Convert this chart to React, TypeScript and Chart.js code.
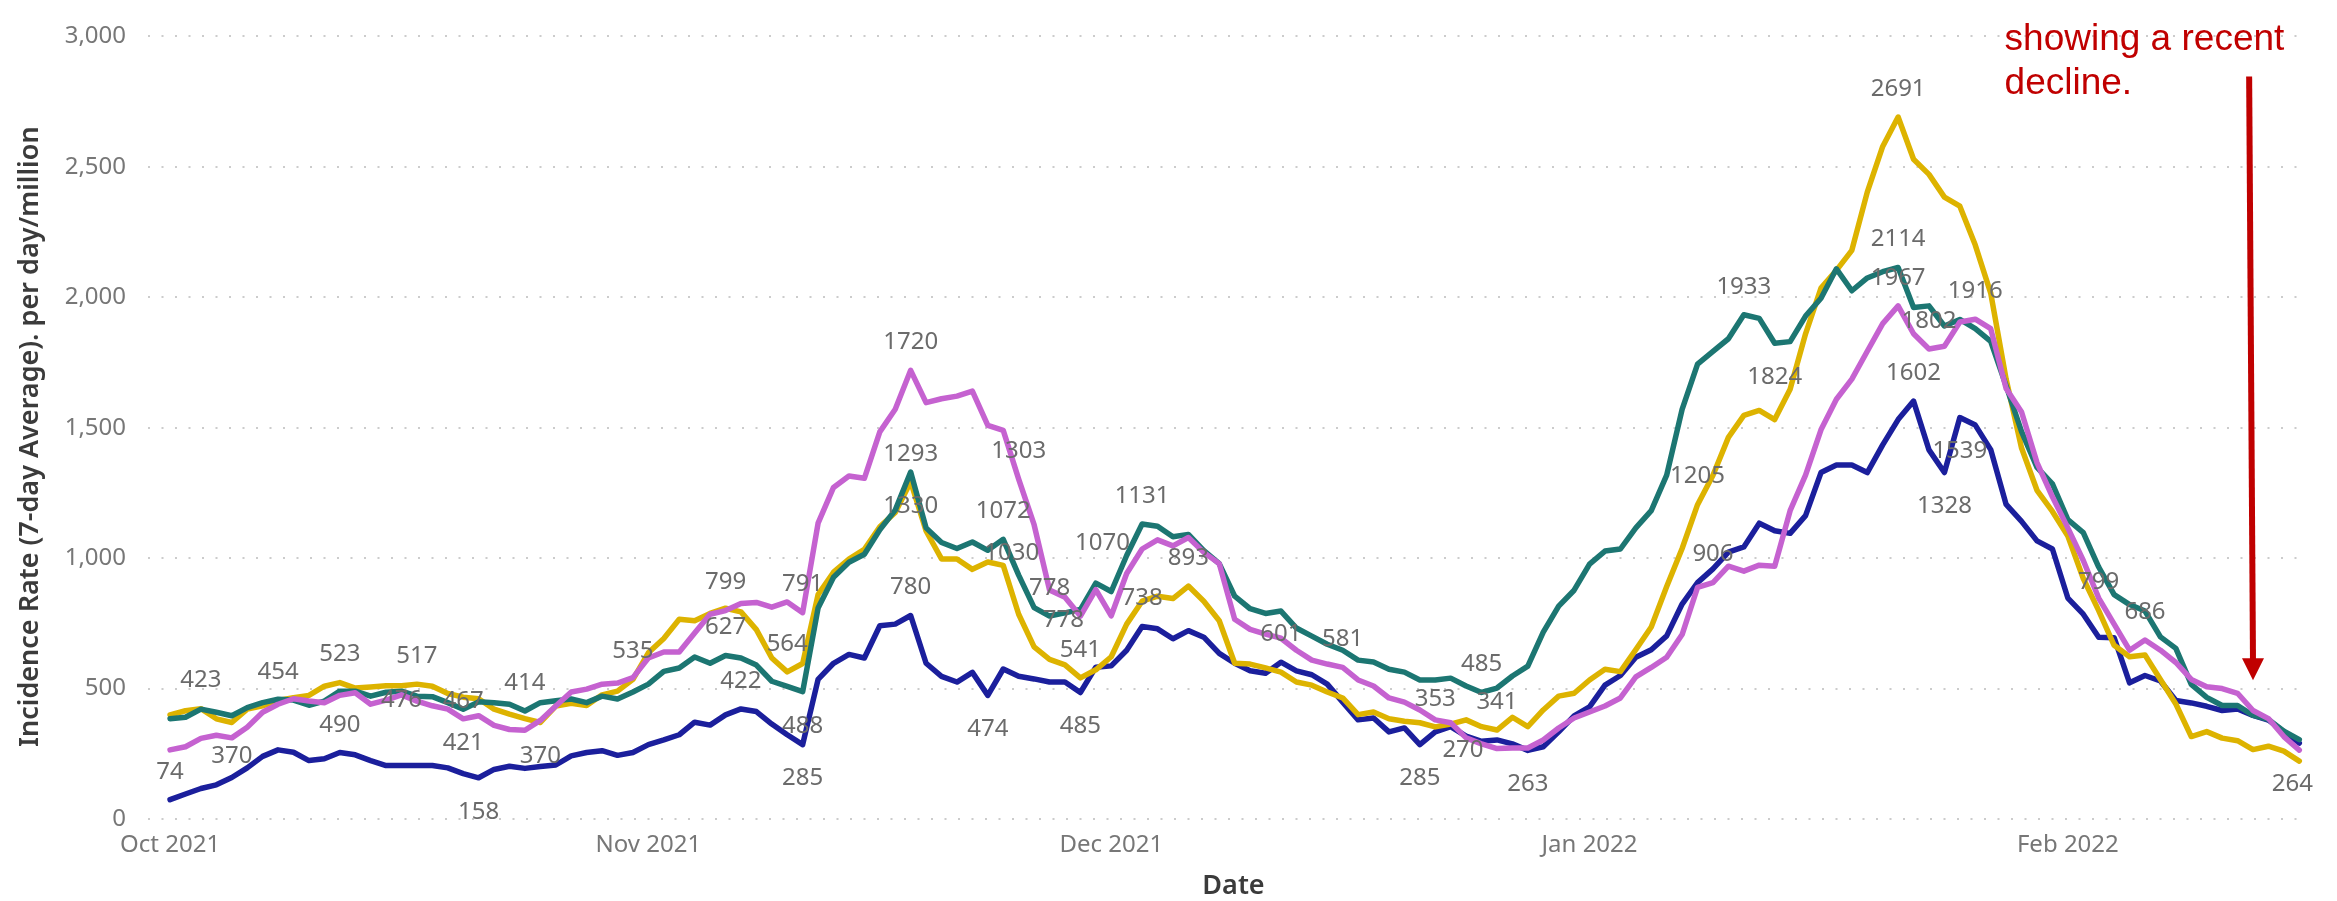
import React, { useEffect, useRef } from 'react';
import { Chart, registerables } from 'chart.js';

Chart.register(...registerables);

// ---------- DATA ----------
// Daily values, 1 Oct 2021 (index 0) to 16 Feb 2022 (index 138)
const blueSeries = [
  74, 96, 117, 131, 159, 196, 240, 265, 256, 224,
  231, 255, 246, 224, 205, 205, 205, 205, 196, 174,
  158, 190, 202, 194, 201, 207, 242, 255, 262, 244,
  255, 285, 303, 323, 371, 360, 399, 422, 412, 364,
  323, 285, 535, 597, 631, 617, 741, 747, 780, 597,
  547, 525, 562, 474, 575, 547, 537, 525, 525, 485,
  582, 587, 647, 738, 729, 691, 722, 697, 635, 597,
  568, 559, 601, 568, 553, 517, 448, 380, 387, 334,
  349, 285, 334, 354, 318, 298, 303, 288, 263, 277,
  334, 395, 430, 513, 550, 620, 649, 702, 824, 906,
  959, 1023, 1043, 1134, 1105, 1095, 1163, 1328, 1357, 1357,
  1328, 1434, 1531, 1602, 1415, 1328, 1539, 1510, 1416, 1206,
  1141, 1066, 1035, 847, 785, 697, 695, 522, 550, 529,
  454, 445, 432, 416, 422, 397, 379, 335, 291,
];

const tealSeries = [
  384, 390, 421, 409, 396, 427, 446, 459, 456, 436,
  452, 490, 490, 471, 486, 490, 471, 469, 446, 421,
  449, 446, 440, 414, 446, 453, 460, 446, 471, 460,
  487, 517, 566, 579, 621, 597, 627, 617, 590, 528,
  508, 488, 809, 927, 984, 1015, 1109, 1184, 1330, 1116,
  1060, 1037, 1062, 1030, 1072, 935, 810, 778, 790, 803,
  904, 872, 1010, 1131, 1122, 1082, 1091, 1029, 979, 854,
  806, 788, 797, 732, 701, 670, 647, 609, 602, 574,
  563, 533, 533, 540, 510, 485, 502, 548, 586, 716,
  816, 877, 977, 1027, 1035, 1116, 1182, 1318, 1570, 1744,
  1793, 1841, 1933, 1919, 1824, 1830, 1928, 1996, 2109, 2025,
  2074, 2098, 2114, 1961, 1967, 1890, 1915, 1880, 1831, 1660,
  1485, 1348, 1285, 1148, 1098, 966, 860, 822, 797, 698,
  654, 516, 466, 435, 435, 397, 382, 337, 304,
];

const yellowSeries = [
  399, 415, 423, 384, 370, 421, 434, 454, 465, 474,
  509, 523, 502, 506, 511, 511, 517, 509, 481, 467,
  461, 421, 402, 385, 370, 433, 444, 435, 476, 490,
  535, 637, 692, 766, 760, 788, 808, 794, 726, 617,
  564, 596, 860, 946, 996, 1034, 1120, 1175, 1293, 1104,
  997, 997, 957, 985, 972, 785, 660, 612, 591, 541,
  572, 622, 747, 835, 854, 845, 893, 835, 760, 597,
  594, 579, 563, 525, 513, 487, 464, 400, 410, 384,
  375, 369, 353, 364, 380, 354, 341, 390, 354, 418,
  471, 482, 533, 574, 565, 649, 736, 891, 1037, 1205,
  1318, 1463, 1547, 1566, 1531, 1647, 1860, 2035, 2103, 2180,
  2403, 2578, 2691, 2529, 2471, 2384, 2349, 2200, 2016, 1686,
  1422, 1260, 1179, 1085, 922, 799, 666, 622, 629, 535,
  441, 316, 335, 310, 300, 266, 279, 260, 222,
];

const pinkSeries = [
  265, 277, 309, 321, 311, 352, 409, 440, 461, 452,
  446, 474, 484, 440, 456, 476, 452, 434, 421, 384,
  396, 359, 343, 340, 378, 433, 487, 498, 517, 521,
  542, 617, 640, 640, 713, 785, 799, 826, 830, 812,
  832, 791, 1134, 1271, 1315, 1306, 1484, 1571, 1720, 1596,
  1611, 1621, 1640, 1509, 1490, 1303, 1128, 878, 850, 778,
  879, 779, 941, 1035, 1070, 1047, 1079, 1022, 979, 766,
  727, 709, 693, 647, 609, 594, 581, 533, 510, 464,
  448, 418, 380, 369, 311, 288, 270, 272, 272, 303,
  349, 387, 410, 433, 464, 545, 581, 620, 707, 888,
  906, 969, 950, 973, 969, 1182, 1318, 1492, 1609, 1686,
  1793, 1899, 1967, 1860, 1802, 1812, 1905, 1916, 1880, 1650,
  1560, 1366, 1235, 1116, 991, 847, 747, 647, 686, 647,
  600, 535, 507, 500, 482, 416, 385, 316, 264,
];

// x-axis ticks (day index of the 1st of each month) and their labels
const monthTickDays = [0, 31, 61, 92, 123];
const monthTickLabels = ['Oct 2021', 'Nov 2021', 'Dec 2021', 'Jan 2022', 'Feb 2022'];

// y-axis
const yMin = 0;
const yMax = 3000;
const yStep = 500;

// data labels: [day index, placement] ; placement 'a' above, 'b' below, or [dx, dy]
const blueLabels: [number, any][] = [
  [0, 'a'], [20, 'b'], [37, 'a'], [41, 'b'], [48, 'a'], [53, 'b'], [59, 'b'],
  [63, 'a'], [72, 'a'], [81, 'b'], [88, 'b'], [113, 'a'], [115, 'b'], [116, 'b'],
];
const tealLabels: [number, any][] = [
  [11, 'b'], [19, 'b'], [23, 'a'], [36, 'a'], [41, 'b'], [48, 'b'], [53, [24, 3]],
  [54, 'a'], [57, 'a'], [63, 'a'], [85, 'a'], [102, 'a'], [104, 'b'], [112, 'a'],
];
const yellowLabels: [number, any][] = [
  [2, 'a'], [4, 'b'], [7, 'a'], [11, 'a'], [16, 'a'], [19, [0, 4]], [24, 'b'],
  [30, 'a'], [40, 'a'], [48, 'a'], [59, 'a'], [66, 'a'], [82, 'a'], [86, 'a'],
  [99, 'a'], [112, 'a'], [125, 'a'],
];
const pinkLabels: [number, any][] = [
  [15, [0, 5]], [36, 'a'], [41, 'a'], [48, 'a'], [55, 'a'], [59, [-17, 4]],
  [64, [-55, 3]], [76, 'a'], [86, [-34, 2]], [100, 'a'], [112, 'a'], [114, 'a'],
  [117, 'a'], [128, 'a'], [138, [-7, 34]],
];

// annotation
const noteLines = ['showing a recent', 'decline.'];
const noteAnchorDay = 118.9;
const noteBaselineValues = [2947, 2779];
const arrowTopDay = 134.75;
const arrowTipDay = 135.0;
const arrowTopValue = 2846;
const arrowTipValue = 532;

// ---------- STYLE ----------
const W = 2337;
const H = 901;
const FONT = '"Noto Sans", "Open Sans", sans-serif';
const BLUE = '#1B1F9C';
const TEAL = '#1C7672';
const YELLOW = '#DDB300';
const PINK = '#C562D0';
const LABEL_COLOR = '#6b6b6b';
const TICK_COLOR = '#777777';
const TITLE_COLOR = '#3b3b3b';
const RED = '#C00000';

const ABOVE = -28;
const BELOW = 34;

export default function App() {
  const ref = useRef<HTMLCanvasElement>(null);

  useEffect(() => {
    const canvas = ref.current;
    if (!canvas) return;

    const seriesList = [
      { values: pinkSeries, color: PINK, labels: pinkLabels },
      { values: tealSeries, color: TEAL, labels: tealLabels },
      { values: yellowSeries, color: YELLOW, labels: yellowLabels },
      { values: blueSeries, color: BLUE, labels: blueLabels },
    ];

    const labelPlugin = {
      id: 'pointLabels',
      afterDatasetsDraw(chart: any) {
        const { ctx } = chart;
        const x = chart.scales.x;
        const y = chart.scales.y;
        ctx.save();
        ctx.font = `24px ${FONT}`;
        ctx.fillStyle = LABEL_COLOR;
        ctx.textAlign = 'center';
        ctx.textBaseline = 'middle';
        for (const s of seriesList) {
          for (const [i, place] of s.labels) {
            const v = s.values[i];
            let dx = 0;
            let dy = ABOVE;
            if (place === 'b') dy = BELOW;
            else if (Array.isArray(place)) { dx = place[0]; dy = place[1]; }
            ctx.fillText(String(v), x.getPixelForValue(i) + dx, y.getPixelForValue(v) + dy);
          }
        }
        ctx.restore();
      },
    };

    const decorPlugin = {
      id: 'decor',
      afterDraw(chart: any) {
        const { ctx, chartArea } = chart;
        const x = chart.scales.x;
        const y = chart.scales.y;
        ctx.save();
        // y-axis title
        ctx.fillStyle = TITLE_COLOR;
        ctx.font = `600 27px ${FONT}`;
        ctx.textAlign = 'center';
        ctx.textBaseline = 'middle';
        ctx.translate(30, (chartArea.top + chartArea.bottom) / 2 + 9);
        ctx.rotate(-Math.PI / 2);
        ctx.fillText('Incidence Rate (7-day Average). per day/million', 0, 0);
        ctx.restore();

        ctx.save();
        // x-axis title
        ctx.fillStyle = TITLE_COLOR;
        ctx.font = `600 27px ${FONT}`;
        ctx.textAlign = 'center';
        ctx.textBaseline = 'middle';
        ctx.fillText('Date', (chartArea.left + chartArea.right) / 2 + 6, 886);

        // annotation text
        ctx.fillStyle = RED;
        ctx.font = `37px "Liberation Sans", Arial, sans-serif`;
        ctx.textAlign = 'left';
        ctx.textBaseline = 'alphabetic';
        noteLines.forEach((t, k) => {
          ctx.fillText(t, x.getPixelForValue(noteAnchorDay), y.getPixelForValue(noteBaselineValues[k]));
        });

        // arrow
        const x0 = x.getPixelForValue(arrowTopDay);
        const y0 = y.getPixelForValue(arrowTopValue);
        const x1 = x.getPixelForValue(arrowTipDay);
        const y1 = y.getPixelForValue(arrowTipValue);
        const headLen = 22;
        ctx.strokeStyle = RED;
        ctx.lineWidth = 6;
        ctx.beginPath();
        ctx.moveTo(x0, y0);
        ctx.lineTo(x1, y1 - headLen + 2);
        ctx.stroke();
        ctx.fillStyle = RED;
        ctx.beginPath();
        ctx.moveTo(x1, y1);
        ctx.lineTo(x1 - 11, y1 - headLen);
        ctx.lineTo(x1 + 11, y1 - headLen);
        ctx.closePath();
        ctx.fill();
        ctx.restore();
      },
    };

    const chart = new Chart(canvas, {
      type: 'line',
      data: {
        datasets: seriesList.map((s) => ({
          data: s.values.map((v, i) => ({ x: i, y: v })),
          borderColor: s.color,
          backgroundColor: s.color,
          borderWidth: 5.5,
          pointRadius: 0,
          tension: 0,
          borderJoinStyle: 'round' as const,
          borderCapStyle: 'round' as const,
          fill: false,
        })),
      },
      options: {
        responsive: false,
        animation: false,
        devicePixelRatio: 1,
        layout: { padding: { top: 19, right: 30, left: 0, bottom: 0 } },
        plugins: {
          legend: { display: false },
          tooltip: { enabled: false },
        },
        scales: {
          x: {
            type: 'linear',
            min: -1.43,
            max: 138.5,
            afterBuildTicks: (scale: any) => {
              scale.ticks = monthTickDays.map((v) => ({ value: v }));
            },
            afterFit: (scale: any) => {
              scale.height = 82;
            },
            ticks: {
              autoSkip: false,
              maxRotation: 0,
              padding: 12,
              color: TICK_COLOR,
              font: { family: FONT, size: 24 },
              callback: (value: any) => {
                const k = monthTickDays.indexOf(Number(value));
                return k >= 0 ? monthTickLabels[k] : '';
              },
            },
            grid: { display: false, drawTicks: false },
            border: { display: false },
          },
          y: {
            min: yMin,
            max: yMax,
            afterFit: (scale: any) => {
              scale.width = 148;
            },
            ticks: {
              stepSize: yStep,
              padding: 22,
              color: TICK_COLOR,
              font: { family: FONT, size: 24 },
              callback: (value: any) => Number(value).toLocaleString('en-US'),
            },
            grid: { color: '#cccccc', lineWidth: 2, drawTicks: false },
            border: { display: false, dash: [2, 11.5] },
          },
        },
      } as any,
      plugins: [labelPlugin, decorPlugin],
    });

    return () => chart.destroy();
  }, []);

  return (
    <div style={{ position: 'absolute', left: 0, top: 0, width: W, height: H, background: '#ffffff' }}>
      <canvas ref={ref} width={W} height={H} style={{ display: 'block', width: W, height: H }} />
    </div>
  );
}
